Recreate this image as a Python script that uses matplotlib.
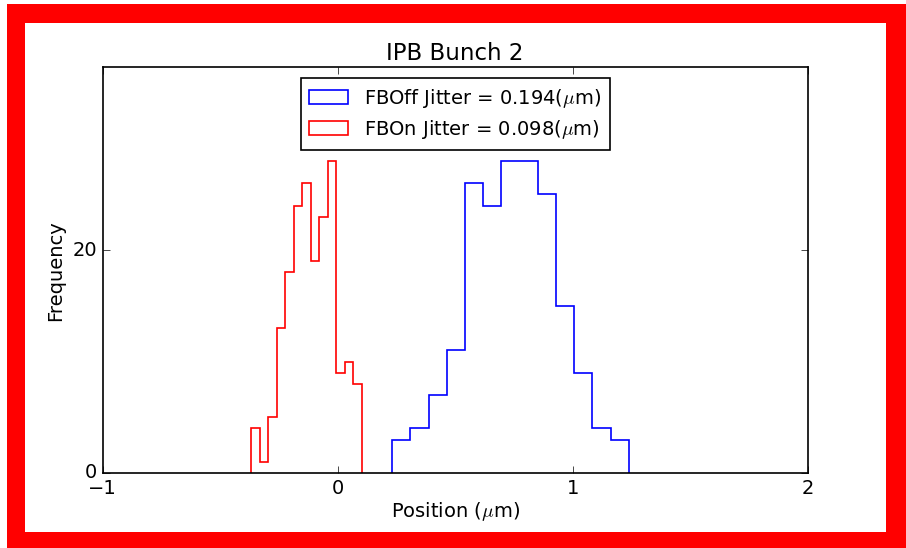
import numpy as np
import matplotlib
matplotlib.use("Agg")
import matplotlib.pyplot as plt
from matplotlib.patches import Rectangle

# Data
off_range = (0.232, 1.239)
off_counts = [3, 4, 7, 11, 26, 24, 28, 28, 25, 15, 9, 4, 3]
on_range = (-0.367, 0.104)
on_counts = [4, 1, 5, 13, 18, 24, 26, 19, 23, 28, 9, 10, 8]
off_label = r"FBOff Jitter = 0.194($\mu$m)"
on_label = r"FBOn Jitter = 0.098($\mu$m)"
title = "IPB Bunch 2"
xlabel = r"Position ($\mu$m)"
ylabel = "Frequency"
xticks = [-1, 0, 1, 2]
yticks = [0, 20]

plt.style.use("classic")
plt.rcParams["font.family"] = ["DejaVu Sans"]

fig = plt.figure(figsize=(9.06, 5.48), dpi=100, facecolor="white")

# red frame
W, H = 906.0, 548.0
fig.patches.append(Rectangle((7 / W, 0), 1 - 7 / W, (H - 4) / H,
                             transform=fig.transFigure, facecolor="red",
                             edgecolor="none", zorder=-10))
fig.patches.append(Rectangle((25 / W, (H - 532) / H), (886 - 25) / W, (532 - 23) / H,
                             transform=fig.transFigure, facecolor="white",
                             edgecolor="none", zorder=-9))

ax = fig.add_axes([102.5 / W, (H - 473) / H, (807.7 - 102.5) / W, (473 - 67.3) / H])

def draw(rng, counts, color, label):
    edges = np.linspace(rng[0], rng[1], len(counts) + 1)
    centers = 0.5 * (edges[:-1] + edges[1:])
    ax.hist(centers, bins=edges, weights=counts, histtype="step",
            color=color, linewidth=1.2, label=label)

draw(off_range, off_counts, "blue", off_label)
draw(on_range, on_counts, "red", on_label)

ax.set_xlim(-1, 2)
ax.set_ylim(0, 36.4)
ax.set_xticks(xticks)
ax.set_yticks(yticks)
ax.tick_params(labelsize=14, direction="in", length=5)
ax.set_title(title, fontsize=16.5, pad=5)
ax.set_xlabel(xlabel, fontsize=14, labelpad=2)
ax.set_ylabel(ylabel, fontsize=14)
for s in ax.spines.values():
    s.set_linewidth(1.2)

leg = ax.legend(loc="upper center", fontsize=14, frameon=True, fancybox=False,
                borderaxespad=0.55, handlelength=2.0, labelspacing=0.42,
                borderpad=0.45)
leg.get_frame().set_linewidth(1.2)

fig.savefig("out.png", dpi=100, facecolor="white")
